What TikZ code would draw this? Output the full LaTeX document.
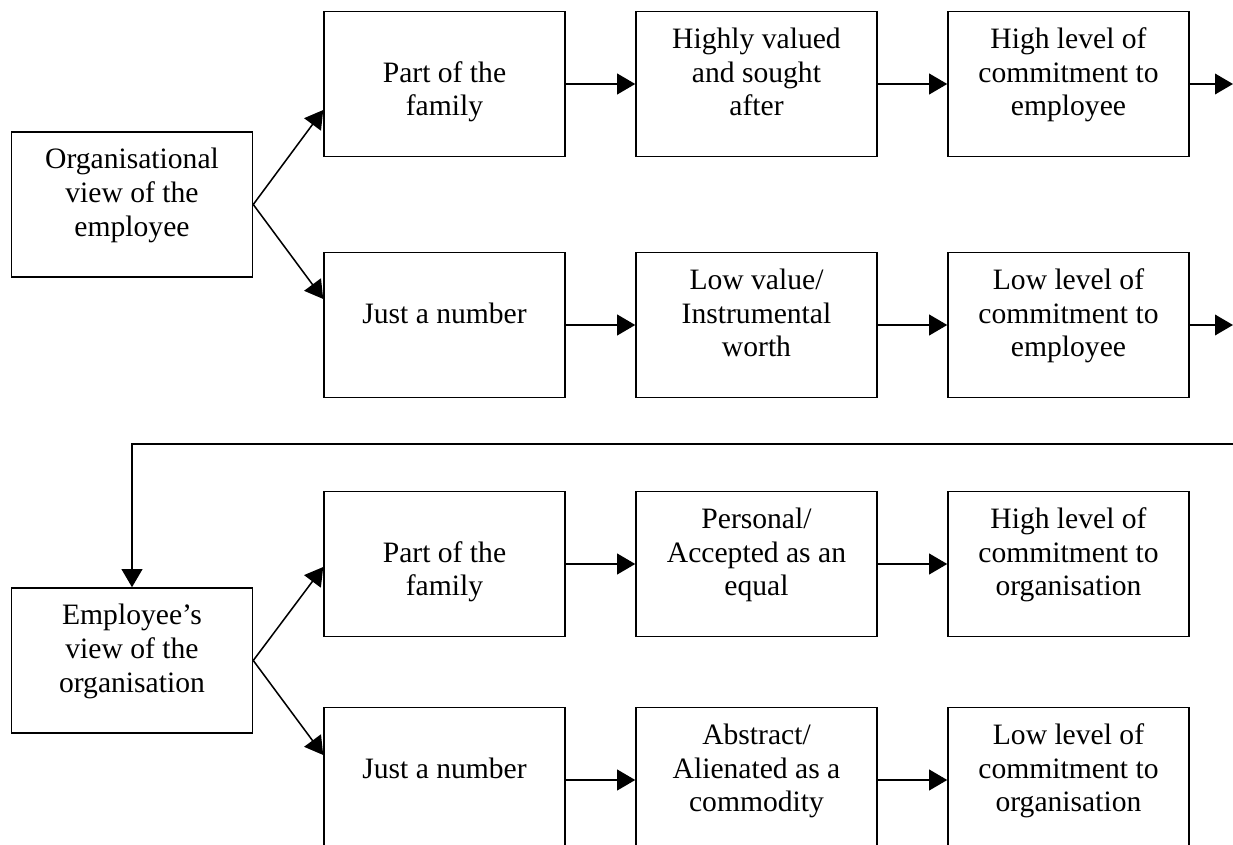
\documentclass[tikz,border=0pt]{standalone}
\usepackage{fontspec}
\setmainfont{Liberation Serif}
\usetikzlibrary{arrows.meta,calc}
\begin{document}
\begin{tikzpicture}[x=0.75pt,y=-0.75pt,
  box/.style={draw,line width=1.15pt,inner sep=0pt,minimum width=180.75pt,minimum height=108.75pt},
  txt/.style={anchor=north,inner sep=0pt,align=center,font=\fontsize{22.2}{25.3}\selectfont},
  conn/.style={line width=1.15pt,-{Triangle[length=13.5pt,width=15.5pt]}}]
\useasboundingbox (0,0) rectangle (1233,845);
\clip (0,0) rectangle (1233,845);

% upper group
\node[box] (o)  at (132,204.5) {};
\node[box] (p1) at (444.5,84) {};
\node[box] (h1) at (756.5,84) {};
\node[box] (c1) at (1068.5,84) {};
\node[box] (j1) at (444.5,325) {};
\node[box] (l1) at (756.5,325) {};
\node[box] (d1) at (1068.5,325) {};

\node[txt] (ot)  at ($(o.north)+(0,13.7)$)  {\strut Organisational\\view of the\\employee};
\node[txt] (p1t) at ($(p1.north)+(0,13.7)$) {\strut\\Part of the\\family};
\node[txt] (h1t) at ($(h1.north)+(0,13.7)$) {\strut Highly valued\\and sought\\after};
\node[txt] (c1t) at ($(c1.north)+(0,13.7)$) {\strut High level of\\commitment to\\employee};
\node[txt] (j1t) at ($(j1.north)+(0,13.7)$) {\strut\\Just a number};
\node[txt] (l1t) at ($(l1.north)+(0,13.7)$) {\strut Low value/\\Instrumental\\worth};
\node[txt] (d1t) at ($(d1.north)+(0,13.7)$) {\strut Low level of\\commitment to\\employee};

\coordinate (e1) at (1233,84);
\coordinate (e2) at (1233,325);

\draw[conn] (o.east) -- ($(p1.west)+(0,26)$);
\draw[conn] (o.east) -- ($(j1.west)+(0,-26)$);
\draw[conn] (p1.east) -- (h1.west);
\draw[conn] (h1.east) -- (c1.west);
\draw[conn] (c1.east) -- (e1);
\draw[conn] (j1.east) -- (l1.west);
\draw[conn] (l1.east) -- (d1.west);
\draw[conn] (d1.east) -- (e2);

% lower group
\node[box] (m)  at (132,660.5) {};
\node[box] (p2) at (444.5,564) {};
\node[box] (h2) at (756.5,564) {};
\node[box] (c2) at (1068.5,564) {};
\node[box] (j2) at (444.5,780) {};
\node[box] (l2) at (756.5,780) {};
\node[box] (d2) at (1068.5,780) {};

\node[txt] (mt)  at ($(m.north)+(0,13.7)$)  {\strut Employee’s\\view of the\\organisation};
\node[txt] (p2t) at ($(p2.north)+(0,13.7)$) {\strut\\Part of the\\family};
\node[txt] (h2t) at ($(h2.north)+(0,13.7)$) {\strut Personal/\\Accepted as an\\equal};
\node[txt] (c2t) at ($(c2.north)+(0,13.7)$) {\strut High level of\\commitment to\\organisation};
\node[txt] (j2t) at ($(j2.north)+(0,13.7)$) {\strut\\Just a number};
\node[txt] (l2t) at ($(l2.north)+(0,13.7)$) {\strut Abstract/\\Alienated as a\\commodity};
\node[txt] (d2t) at ($(d2.north)+(0,13.7)$) {\strut Low level of\\commitment to\\organisation};

\coordinate (fb) at (1234,444);
\draw[conn] (fb) -| (m.north);

\draw[conn] (m.east) -- ($(p2.west)+(0,3)$);
\draw[conn] (m.east) -- ($(j2.west)+(0,-25)$);
\draw[conn] (p2.east) -- (h2.west);
\draw[conn] (h2.east) -- (c2.west);
\draw[conn] (j2.east) -- (l2.west);
\draw[conn] (l2.east) -- (d2.west);
\end{tikzpicture}
\end{document}
